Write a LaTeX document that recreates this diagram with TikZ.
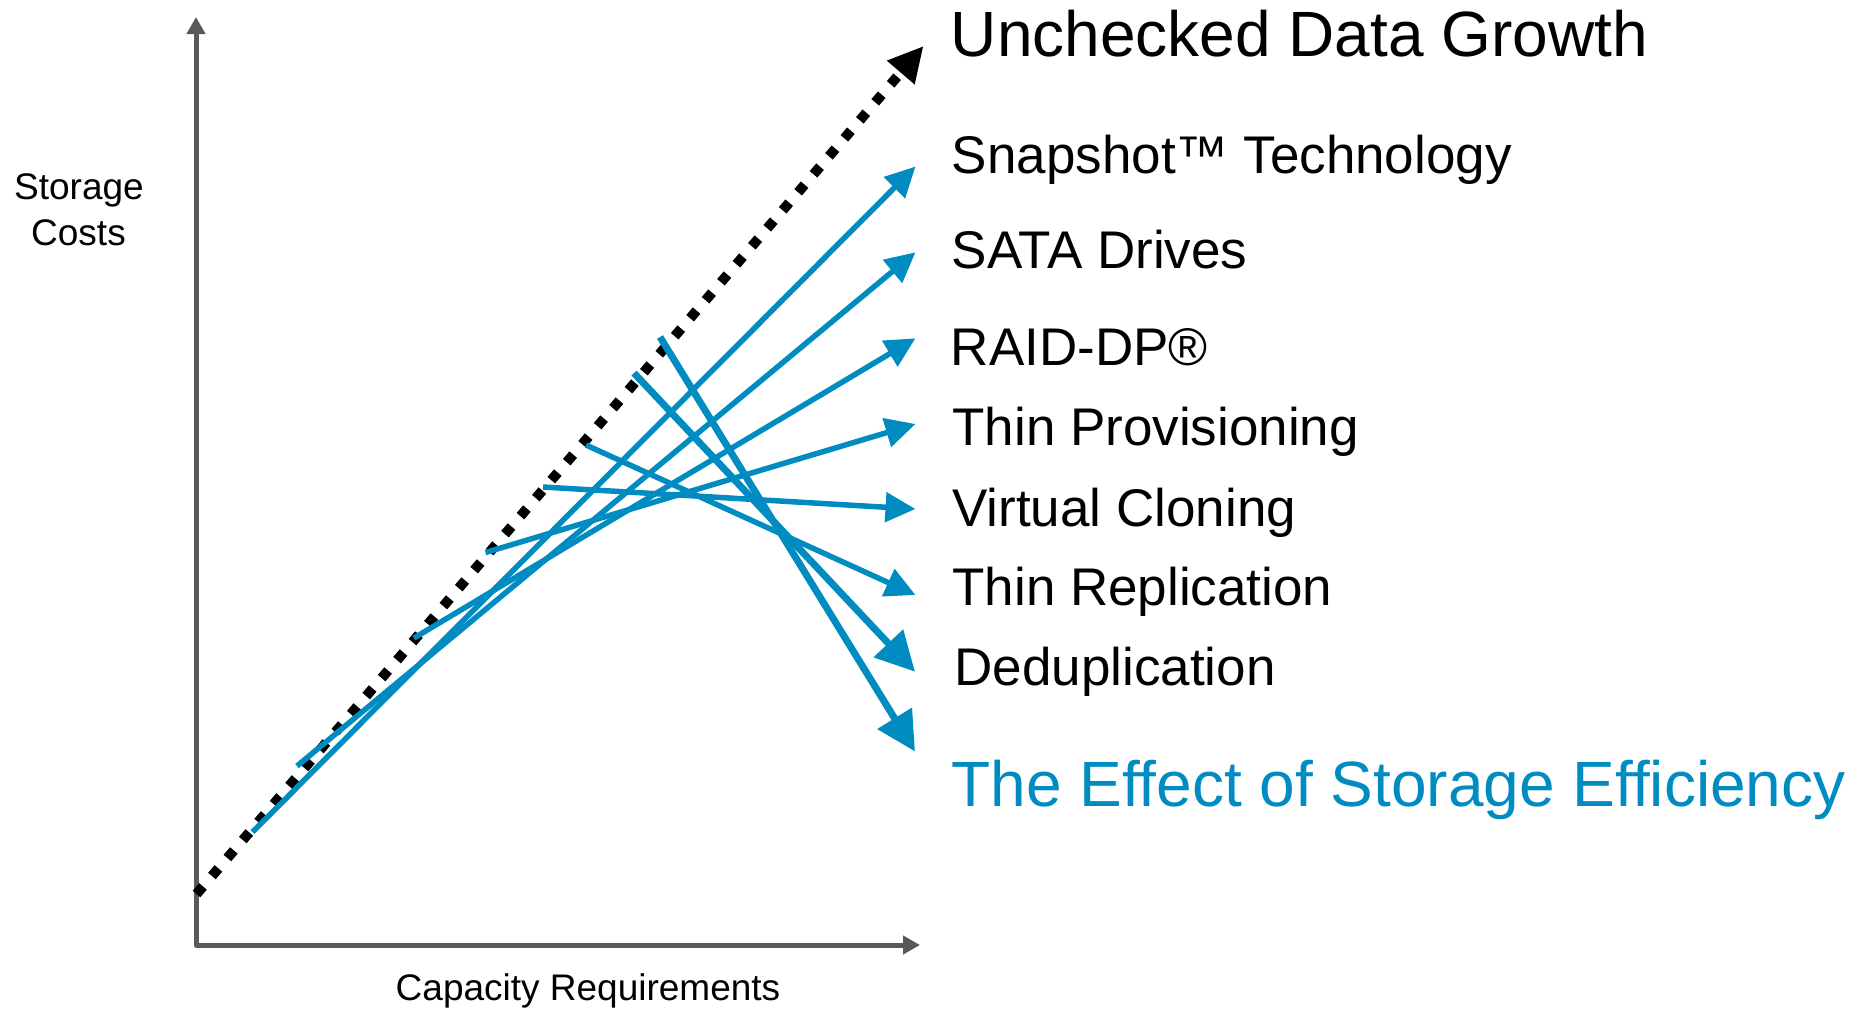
\documentclass[tikz,border=0pt]{standalone}
\usepackage{fontspec}
\setmainfont{Liberation Sans}
\usetikzlibrary{arrows.meta}
\definecolor{nablue}{HTML}{008CC1}
\definecolor{axisgray}{HTML}{595959}
\begin{document}
\begin{tikzpicture}[x=0.5pt,y=-0.5pt,
  axisline/.style={draw=axisgray, line width=2.5pt, line join=round,
    arrows={Triangle[length=8.5pt,width=9pt]-Triangle[length=8.5pt,width=9pt]}},
  growth/.style={draw=black, line width=5pt, dash pattern=on 5pt off 6.85pt,
    -{Triangle[length=17.5pt,width=17pt]}},
  effarrow/.style={draw=nablue, line width=2.75pt, -{Triangle[length=15pt,width=14.5pt]}},
  bigarrow/.style={draw=nablue, line width=3.5pt, -{Triangle[length=19.5pt,width=19.5pt]}},
  lbl/.style={anchor=base west, inner sep=0pt, font=\fontsize{26.5pt}{30pt}\selectfont},
  biglbl/.style={anchor=base west, inner sep=0pt, font=\fontsize{32pt}{36pt}\selectfont},
  axlbl/.style={anchor=base, inner sep=0pt, font=\fontsize{18.5pt}{22pt}\selectfont}
]
\useasboundingbox (0,0) rectangle (1867,1014);

% axes
\coordinate (o) at (196,945);
\coordinate (ytip) at (196,17);
\coordinate (xtip) at (920,945);
\draw[axisline] (ytip) -- (o) -- (xtip);

\node[axlbl] (ylbl1) at (79,199.5) {Storage};
\node[axlbl] (ylbl2) at (78.5,245) {Costs};
\node[axlbl] (xlbl) at (588,1000) {Capacity Requirements};

% unchecked growth
\coordinate (g0) at (196.5,894);
\coordinate (g1) at (923.5,46);
\draw[growth] (g0) -- (g1);

% efficiency arrows
\coordinate (s1) at (252.5,832);  \coordinate (t1) at (915.5,166.5);
\coordinate (s2) at (297,766);    \coordinate (t2) at (915.5,252.3);
\coordinate (s3) at (414,638);    \coordinate (t3) at (915.5,338.3);
\coordinate (s4) at (485.5,552.5);\coordinate (t4) at (915.5,424);
\coordinate (s5) at (543,487);    \coordinate (t5) at (915.5,509);
\coordinate (s6) at (586,445);    \coordinate (t6) at (915.5,595);
\coordinate (s7) at (634,373);    \coordinate (t7) at (915,671.7);
\coordinate (s8) at (660,337);    \coordinate (t8) at (915,751.5);

\draw[effarrow] (s1) -- (t1);
\draw[effarrow] (s2) -- (t2);
\draw[effarrow] (s3) -- (t3);
\draw[effarrow] (s4) -- (t4);
\draw[effarrow] (s5) -- (t5);
\draw[effarrow] (s6) -- (t6);
\draw[bigarrow] (s7) -- (t7);
\draw[bigarrow] (s8) -- (t8);

% labels
\node[biglbl] (l0) at (950.5,56) {Unchecked Data Growth};
\node[lbl] (l1) at (951.5,173.3) {Snapshot™ Technology};
\node[lbl] (l2) at (951.5,268.3) {SATA Drives};
\node[lbl] (l3) at (950.5,365) {RAID-DP®};
\node[lbl] (l4) at (952,445) {Thin Provisioning};
\node[lbl] (l5) at (952,526) {Virtual Cloning};
\node[lbl] (l6) at (952,605) {Thin Replication};
\node[lbl] (l7) at (954,685) {Deduplication};
\node[biglbl, text=nablue] (l8) at (951,806.7) {The Effect of Storage Efficiency};
\end{tikzpicture}
\end{document}
